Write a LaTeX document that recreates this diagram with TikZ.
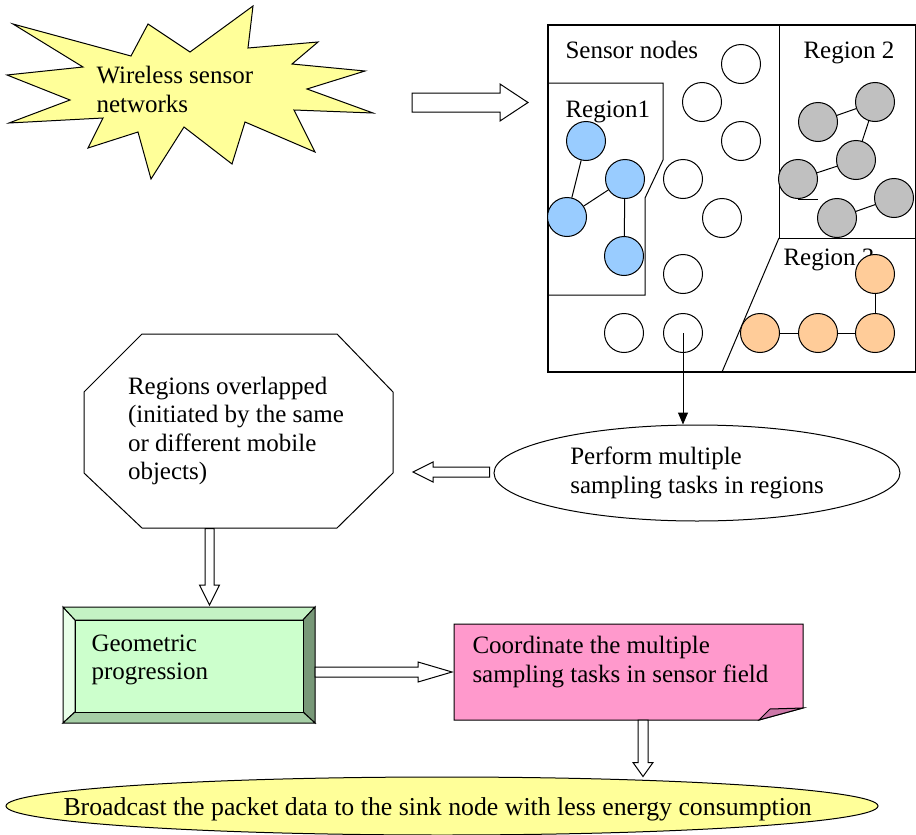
\documentclass[tikz,border=0pt]{standalone}
\usepackage{fontspec}
\setmainfont{Liberation Serif}
\usetikzlibrary{calc,shapes.geometric,arrows.meta}
\definecolor{staryellow}{HTML}{FFFF99}
\definecolor{nodeblue}{HTML}{99CCFF}
\definecolor{nodegray}{HTML}{C0C0C0}
\definecolor{nodeorange}{HTML}{FFCC99}
\definecolor{notepink}{HTML}{FF99CC}
\definecolor{notefold}{HTML}{CC77A8}
\definecolor{geoface}{HTML}{CCFFCC}
\definecolor{geolight}{HTML}{E8FFE8}
\definecolor{geotop}{HTML}{C4F2C4}
\definecolor{geodark}{HTML}{789878}
\definecolor{geobottom}{HTML}{A6CFA6}
\tikzset{
  snode/.style={circle, draw, minimum size=39pt, inner sep=0pt},
  txt/.style={align=left, inner sep=0pt, font=\fontsize{25}{28.5}\selectfont},
  blockarrow/.style n args={3}{draw, fill=white, to path={
    let \p1=(\tikztostart), \p2=(\tikztotarget), \p3=($(\p2)!#3!(\p1)$) in
    ($(\p1)!#1!90:(\p2)$) -- ($(\p3)!#1!90:(\p2)$) -- ($(\p3)!#2!90:(\p2)$) -- (\p2)
    -- ($(\p3)!#2!-90:(\p2)$) -- ($(\p3)!#1!-90:(\p2)$) -- ($(\p1)!#1!-90:(\p2)$) -- cycle}}
}
\begin{document}
\begin{tikzpicture}[x=1pt, y=-1pt, line width=1pt]
    \useasboundingbox (0,0) rectangle (916,835);

    \draw[fill=staryellow] (13,24) -- (83,67) -- (7,75) -- (70,100) -- (9,123) -- (103,118)
        -- (88,148) -- (138,132) -- (151,179) -- (184,127) -- (232,164) -- (245,122)
        -- (315,152) -- (294,110) -- (373,113) -- (307,89) -- (365,71) -- (292,64)
        -- (318,42) -- (248,48) -- (253,6) -- (190,52) -- (148,24) -- (131,56) -- cycle;
        \node[txt, anchor=north west] (wsn) at (96,66) {Wireless sensor\\networks};

    \draw[line width=1.3pt] (548,25) rectangle (916,372);
        \draw(779,25) to (779,238) to (916,238);
        \draw(779,238) to (722,372);
        \draw(548,83) -- (663,83) -- (663,160) -- (645,198) -- (645,295) -- (548,295);
        \node[txt, anchor=base west] (sensorlbl) at (565,58) {Sensor nodes};
        \node[txt, anchor=base west] (reg1lbl) at (565,117) {Region1};
        \node[txt, anchor=base west] (reg2lbl) at (803,58) {Region 2};
        \node[txt, anchor=base west] (reg3lbl) at (783,265) {Region 3};

        \node[snode] (w1) at (741,64) {};
        \node[snode] (w2) at (702,102) {};
        \node[snode] (w3) at (741,141) {};
        \node[snode] (w4) at (683,179) {};
        \node[snode] (w5) at (722,218) {};
        \node[snode] (w6) at (683,274) {};
        \node[snode] (w7) at (624,333) {};
        \node[snode] (w8) at (683,333) {};

        \node[snode, fill=nodeblue] (b1) at (586,141) {};
        \node[snode, fill=nodeblue] (b2) at (625,179) {};
        \node[snode, fill=nodeblue] (b3) at (567,217) {};
        \node[snode, fill=nodeblue] (b4) at (624,256) {};
            \draw(b1) -- (b3);
            \draw(b3) -- (b2);
            \draw(b2) -- (b4);

        \node[snode, fill=nodegray] (g1) at (818,122) {};
        \node[snode, fill=nodegray] (g2) at (875,102) {};
        \node[snode, fill=nodegray] (g3) at (856,160) {};
        \node[snode, fill=nodegray] (g4) at (798,179) {};
        \node[snode, fill=nodegray] (g5) at (837,218) {};
        \node[snode, fill=nodegray] (g6) at (894,198) {};
            \draw(g1) -- (g2);
            \draw(g2) -- (g3);
            \draw(g3) -- (g4);
            \draw(g5) -- (g6);
            \draw(g4.south) -- ++(20,0);

        \node[snode, fill=nodeorange] (o1) at (875,274) {};
        \node[snode, fill=nodeorange] (o2) at (760,333) {};
        \node[snode, fill=nodeorange] (o3) at (818,333) {};
        \node[snode, fill=nodeorange] (o4) at (875,333) {};
            \draw(o2) -- (o3);
            \draw(o3) -- (o4);
            \draw(o4) -- (o1);

    \node[ellipse, draw, minimum width=406pt, minimum height=96pt, txt] (pf) at (697,473)
        {Perform multiple\\sampling tasks in regions};
        \draw[-{Triangle[length=12pt,width=10pt]}] (w8.center) -- (w8.center |- pf.north);

    \node[minimum width=309pt, minimum height=194pt, txt] (ov) at (236,431)
        {Regions overlapped\\(initiated by the same\\or different mobile\\objects)};
        \draw(142,334) -- (337,334) -- (393,392) -- (393,473) -- (337,528) -- (142,528)
            -- (84,473) -- (84,392) -- cycle;

    \draw[fill=geolight] (63,607) -- (75,620) -- (75,712) -- (63,723) -- cycle;
    \draw[fill=geotop] (63,607) -- (315,607) -- (303,620) -- (75,620) -- cycle;
    \draw[fill=geodark] (315,607) -- (315,723) -- (303,712) -- (303,620) -- cycle;
    \draw[fill=geobottom] (63,723) -- (75,712) -- (303,712) -- (315,723) -- cycle;
    \draw[fill=geoface] (75,620) rectangle (303,712);
        \node[txt, anchor=north west] (geo) at (91,634) {Geometric\\progression};

    \draw[fill=notepink] (454,624) -- (803,624) -- (803,708) -- (759,720) -- (454,720) -- cycle;
        \draw[fill=notefold] (803,708) -- (759,720) -- (770,709) -- cycle;
        \node[txt, anchor=north west] (cf) at (472,636) {Coordinate the multiple\\sampling tasks in sensor field};

    \node[ellipse, draw, fill=staryellow, minimum width=872pt, minimum height=58pt, inner sep=0pt]
        (bc) at (442,806) {};
        \node[txt, anchor=base west, font=\fontsize{25.8}{29}\selectfont] (bctxt) at (63,815)
            {Broadcast the packet data to the sink node with less energy consumption};

    \coordinate (wsnout) at (412,102.5);
    \coordinate (sfin) at (528,102.5);
    \coordinate (pfout) at ($(pf.west)+(-4,-1)$);
    \coordinate (ovin) at ($(ov.east)+(22,41)$);
    \coordinate (ovout) at ($(ov.south)+(-26.5,0)$);
    \coordinate (geoin) at (209.5,605);
    \coordinate (geoout) at (315,672);
    \coordinate (cfin) at (452,672);
    \coordinate (cfout) at (643,720);

    \draw[blockarrow={9.5pt}{18.5pt}{28pt}] (wsnout) to (sfin);
    \draw[blockarrow={5pt}{10pt}{20pt}] (pfout) to (ovin);
    \draw[blockarrow={4.5pt}{10pt}{20pt}] (ovout) to (geoin);
    \draw[blockarrow={5pt}{10pt}{34pt}] (geoout) to (cfin);
    \draw[blockarrow={5pt}{10pt}{14pt}] (cfout) to (cfout |- bc.north);
\end{tikzpicture}
\end{document}
